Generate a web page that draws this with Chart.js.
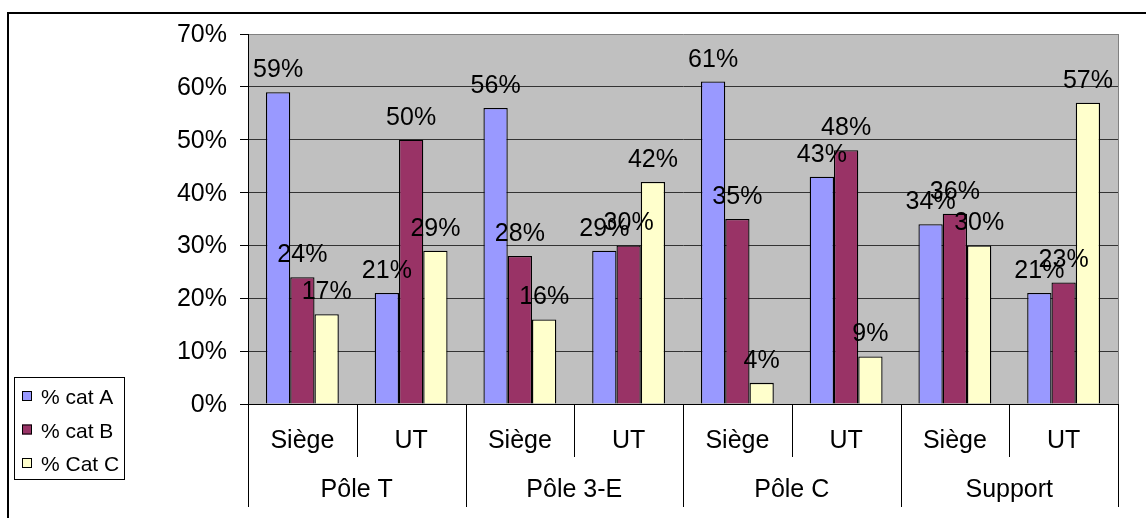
<!DOCTYPE html>
<html>
<head>
<meta charset="utf-8">
<script src="https://cdn.jsdelivr.net/npm/chart.js@4/dist/chart.umd.min.js"></script>
<style>
  html, body { margin: 0; padding: 0; background: #fff; }
  #wrap { width: 1146px; height: 518px; position: relative; }
</style>
</head>
<body>
<div id="wrap"><canvas id="c" width="1146" height="518"></canvas></div>
<script>
'use strict';
var subLabels = ['Siège', 'UT', 'Siège', 'UT', 'Siège', 'UT', 'Siège', 'UT'];
var groupLabels = ['Pôle T', 'Pôle 3-E', 'Pôle C', 'Support'];
var seriesNames = ['% cat A', '% cat B', '% Cat C'];
var catA = [59, 21, 56, 29, 61, 43, 34, 21];
var catB = [24, 50, 28, 30, 35, 48, 36, 23];
var catC = [17, 29, 16, 42, 4, 9, 30, 57];
var yTicks = [0, 10, 20, 30, 40, 50, 60, 70];

var colors = ['#9999FF', '#993366', '#FFFFCC'];
var font = '"Liberation Sans", Arial, sans-serif';

var excelPlugin = {
	id: 'excelLook',
	beforeDraw: function (chart) {
		var ctx = chart.ctx, a = chart.chartArea;
		ctx.save();
		ctx.fillStyle = '#C0C0C0';
		ctx.fillRect(a.left, a.top, a.right - a.left, a.bottom - a.top);
		// outer frame
		ctx.strokeStyle = '#000';
		ctx.lineWidth = 2;
		ctx.beginPath();
		ctx.moveTo(8, 520);
		ctx.lineTo(8, 13);
		ctx.lineTo(1150, 13);
		ctx.stroke();
		ctx.restore();
	},
	afterDraw: function (chart) {
		var ctx = chart.ctx, a = chart.chartArea;
		var x = chart.scales.x, y = chart.scales.y;
		ctx.save();
		// plot right border
		ctx.strokeStyle = '#808080';
		ctx.lineWidth = 1;
		ctx.beginPath();
		ctx.moveTo(a.right + 0.5, a.top);
		ctx.lineTo(a.right + 0.5, a.bottom);
		ctx.stroke();

		// y tick labels
		ctx.fillStyle = '#000';
		ctx.font = '25px ' + font;
		ctx.textAlign = 'right';
		ctx.textBaseline = 'alphabetic';
		yTicks.forEach(function (v) {
			ctx.fillText(v + '%', 227, y.getPixelForValue(v) + 8);
		});

		// data labels
		ctx.textAlign = 'center';
		chart.data.datasets.forEach(function (ds, di) {
			chart.getDatasetMeta(di).data.forEach(function (bar, i) {
				ctx.fillText(ds.data[i] + '%', bar.x, bar.y - 15);
			});
		});

		// two level category axis
		var w = x.getPixelForValue(1) - x.getPixelForValue(0);
		ctx.strokeStyle = '#000';
		ctx.lineWidth = 1;
		for (var i = 0; i <= subLabels.length; i++) {
			var bx = Math.round(i < subLabels.length ? x.getPixelForValue(i) - w / 2 : a.right) + 0.5;
			ctx.beginPath();
			ctx.moveTo(bx, a.bottom);
			ctx.lineTo(bx, i % 2 === 0 ? 507 : 457);
			ctx.stroke();
		}
		subLabels.forEach(function (s, i) {
			ctx.fillText(s, x.getPixelForValue(i), 448);
		});
		groupLabels.forEach(function (g, k) {
			var cx = (x.getPixelForValue(2 * k) + x.getPixelForValue(2 * k + 1)) / 2;
			ctx.fillText(g, cx, 497);
		});

		// legend
		ctx.lineWidth = 1;
		ctx.strokeRect(14.5, 377.5, 110, 102);
		ctx.font = '21px ' + font;
		ctx.textAlign = 'left';
		seriesNames.forEach(function (n, k) {
			var cy = 396 + k * 33.5;
			ctx.fillStyle = colors[k];
			ctx.fillRect(22, cy - 5, 10, 10);
			ctx.strokeRect(22.5, cy - 4.5, 9, 9);
			ctx.fillStyle = '#000';
			ctx.fillText(n, 41, cy + 8);
		});
		ctx.restore();
	}
};

new Chart(document.getElementById('c'), {
	type: 'bar',
	data: {
		labels: subLabels,
		datasets: [
			{ label: seriesNames[0], data: catA, backgroundColor: colors[0] },
			{ label: seriesNames[1], data: catB, backgroundColor: colors[1] },
			{ label: seriesNames[2], data: catC, backgroundColor: colors[2] }
		].map(function (d) {
			d.borderColor = '#000';
			d.borderWidth = 1.3;
			d.categoryPercentage = 0.67;
			d.barPercentage = 1;
			return d;
		})
	},
	options: {
		responsive: false,
		animation: false,
		devicePixelRatio: 1,
		layout: { padding: { top: 34, right: 28, left: 0, bottom: 0 } },
		plugins: { legend: { display: false }, tooltip: { enabled: false } },
		scales: {
			x: {
				ticks: { display: false },
				grid: { display: false },
				border: { display: true, color: '#000', width: 1 },
				afterFit: function (s) { s.height = 114; }
			},
			y: {
				min: 0,
				max: 70,
				ticks: { display: false, stepSize: 10 },
				grid: {
					color: function (c) { return c.tick.value === 70 ? '#808080' : '#333'; },
					tickColor: '#000',
					tickLength: 8,
					lineWidth: 1
				},
				border: { display: true, color: '#000', width: 1 },
				afterFit: function (s) { s.width = 248; }
			}
		}
	},
	plugins: [excelPlugin]
});
</script>
</body>
</html>
